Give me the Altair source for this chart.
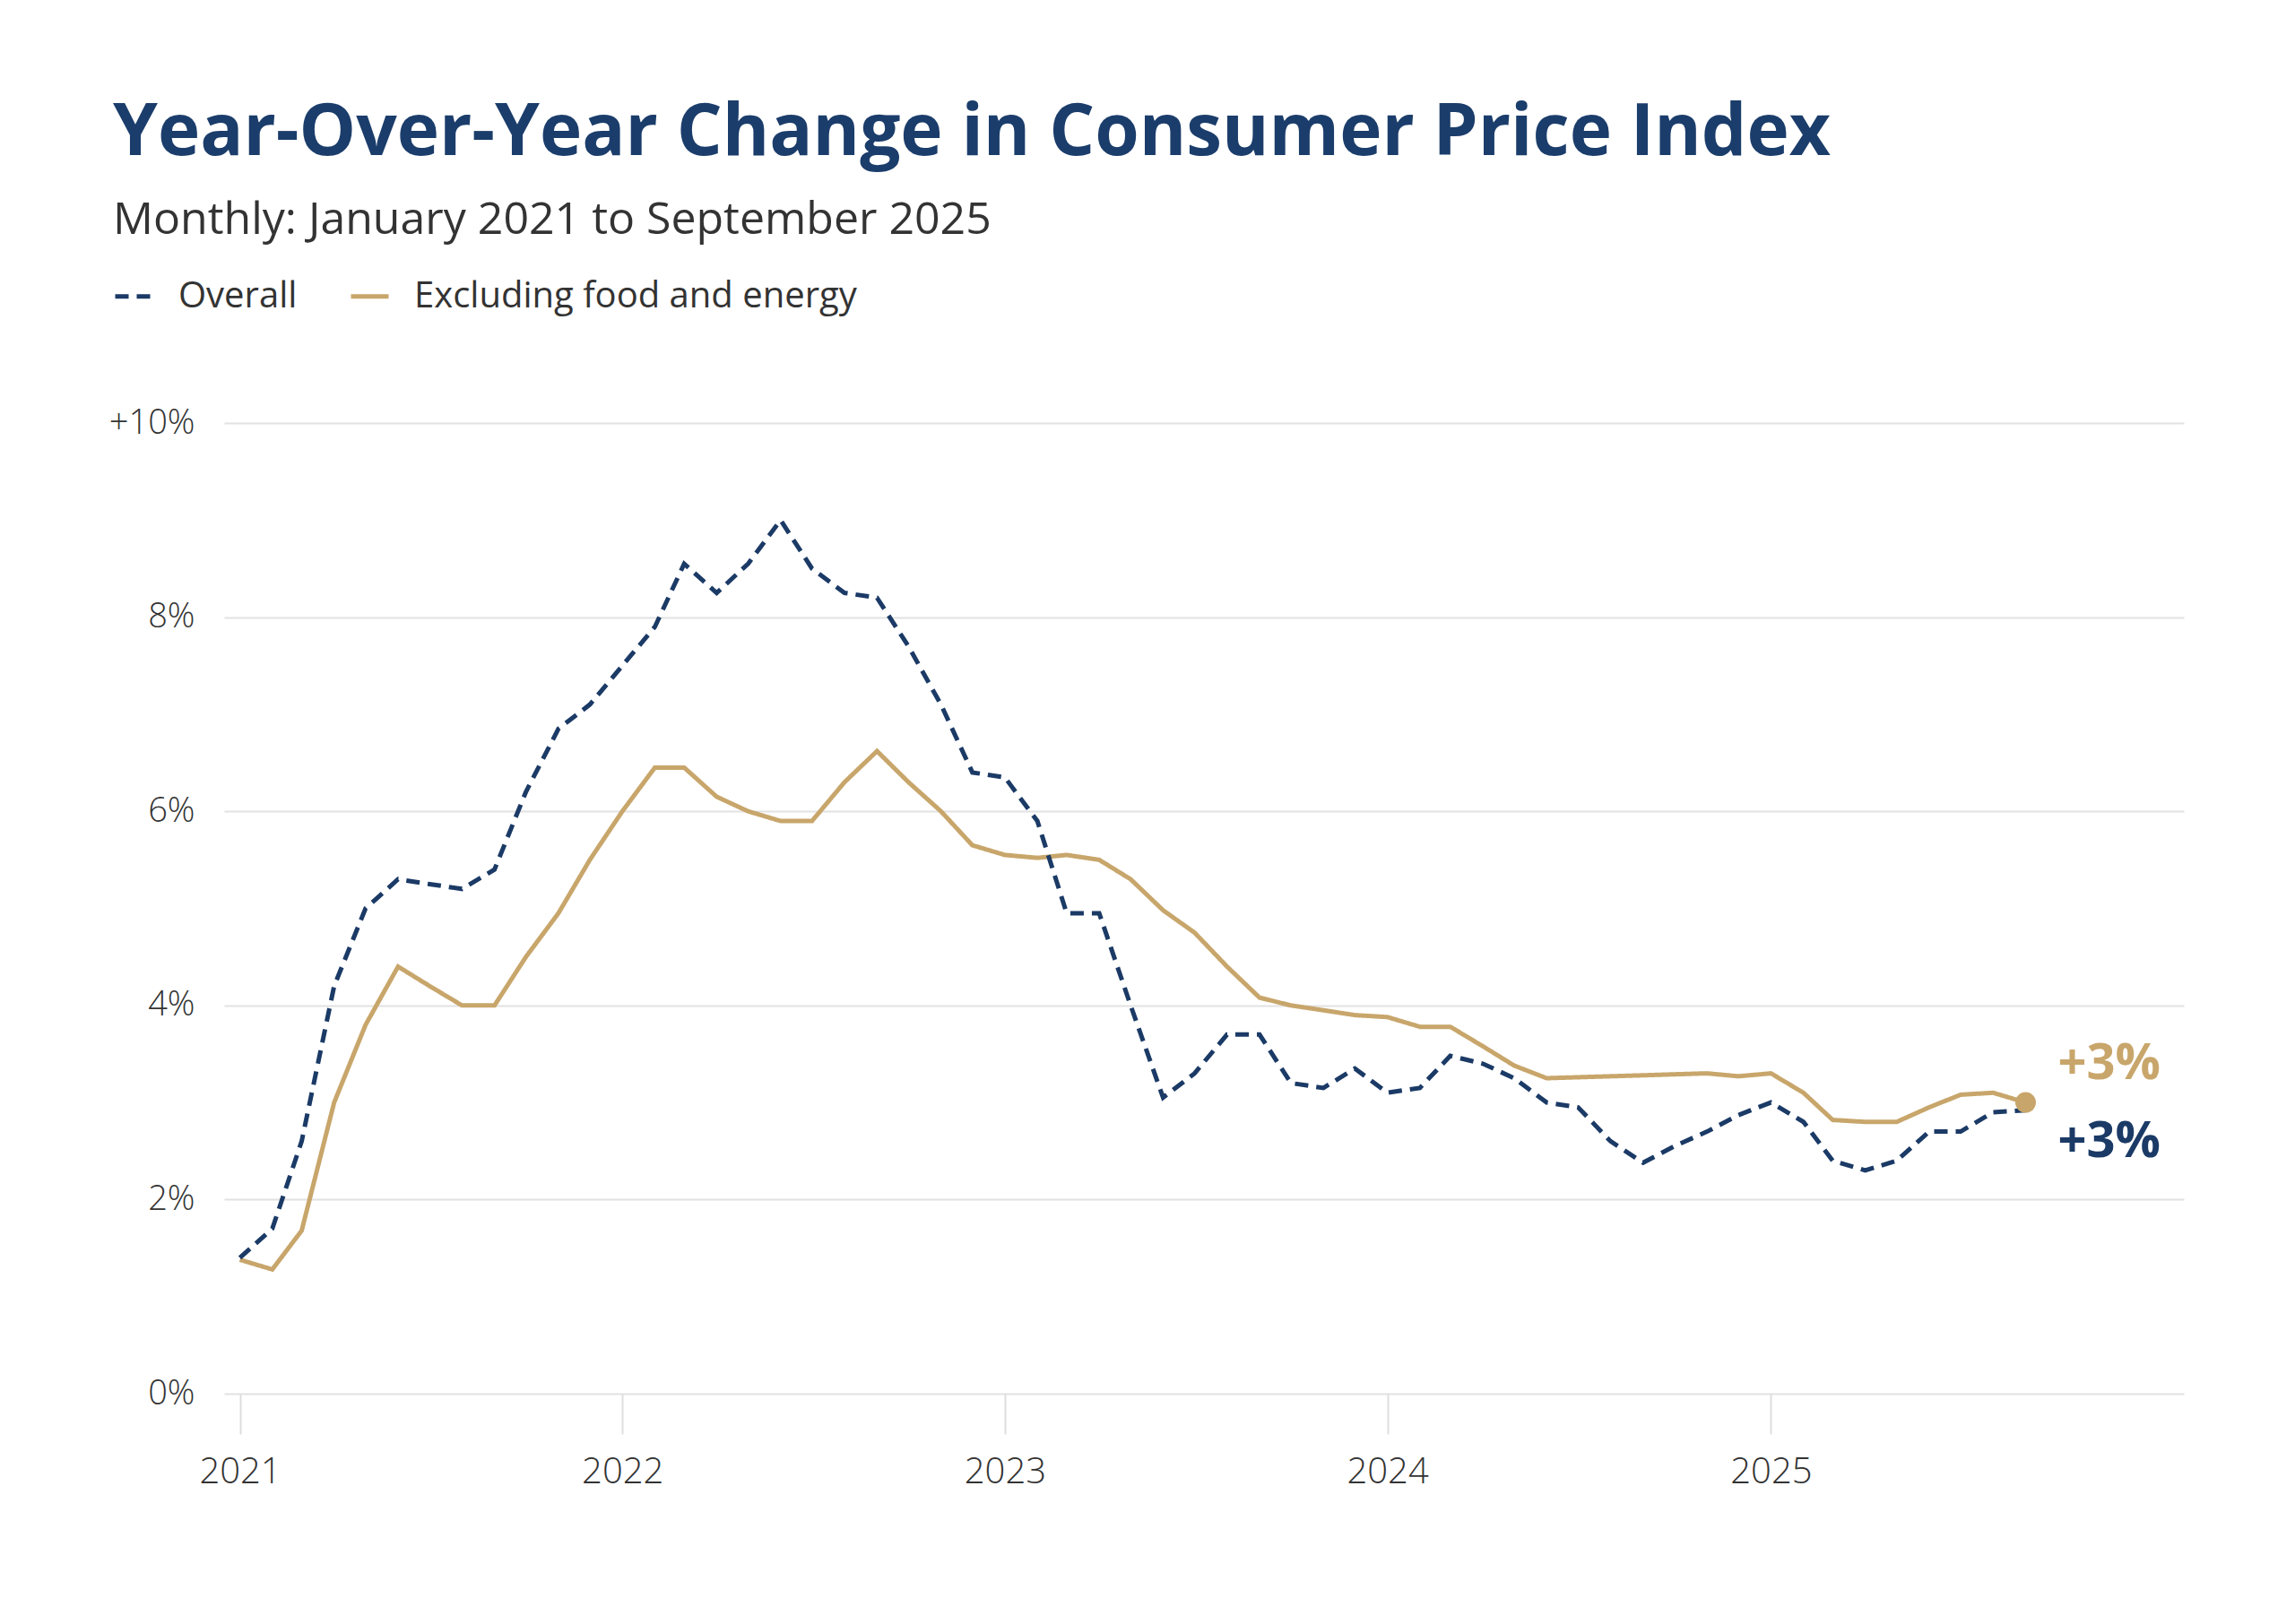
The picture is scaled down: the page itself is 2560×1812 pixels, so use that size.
import altair as alt
import pandas as pd

# ---- data ----
months = pd.date_range("2021-01-01", "2025-09-01", freq="MS").strftime("%Y-%m-%d").tolist()

overall = [
    1.4, 1.7, 2.6, 4.2, 5.0, 5.3, 5.25, 5.2, 5.4, 6.2, 6.85, 7.1,
    7.5, 7.9, 8.55, 8.25, 8.55, 9.0, 8.5, 8.25, 8.2, 7.7, 7.1, 6.4,
    6.35, 5.9, 4.95, 4.95, 4.0, 3.05, 3.3, 3.7, 3.7, 3.2, 3.15, 3.35,
    3.1, 3.15, 3.48, 3.4, 3.25, 3.0, 2.95, 2.6, 2.38, 2.55, 2.7, 2.87,
    3.0, 2.8, 2.4, 2.3, 2.4, 2.7, 2.7, 2.9, 2.92,
]
core = [
    1.38, 1.28, 1.68, 3.0, 3.8, 4.4, 4.2, 4.0, 4.0, 4.5, 4.95, 5.5,
    6.0, 6.45, 6.45, 6.15, 6.0, 5.9, 5.9, 6.3, 6.62, 6.3, 6.0, 5.65,
    5.55, 5.52, 5.55, 5.5, 5.3, 4.98, 4.75, 4.4, 4.08, 4.0, 3.95, 3.9,
    3.88, 3.78, 3.78, 3.58, 3.38, 3.25, 3.26, 3.27, 3.28, 3.29, 3.3, 3.27,
    3.3, 3.1, 2.82, 2.8, 2.8, 2.95, 3.08, 3.1, 3.0,
]
series_names = ["Overall", "Excluding food and energy"]
series_colors = ["#1b3a66", "#c8a66b"]
series_dashes = [[15, 9], [1, 0]]
end_labels = ["+3%", "+3%"]
y_ticks = [0, 2, 4, 6, 8, 10]
x_years = [2021, 2022, 2023, 2024, 2025]

title_text = "Year-Over-Year Change in Consumer Price Index"
subtitle_text = "Monthly: January 2021 to September 2025"

n = len(months)
df = pd.DataFrame({
    "date": months + months,
    "value": core + overall,
    "series": [series_names[1]] * n + [series_names[0]] * n,
})
ends = pd.DataFrame({
    "date": [months[-1], months[-1]],
    "value": [overall[-1], core[-1]],
    "series": series_names,
    "label": end_labels,
})

FONT = "Open Sans"
TEXT = "#333333"

x_enc = alt.X(
    "date:T",
    title=None,
    scale=alt.Scale(
        type="utc",
        domain=[alt.DateTime(year=2020, month=12, date=17, utc=True),
                alt.DateTime(year=2026, month=1, date=30, utc=True)],
    ),
    axis=alt.Axis(
        values=[alt.DateTime(year=y, month=1, date=1, utc=True) for y in x_years],
        format="%Y",
        grid=False, domain=False, ticks=True,
        tickSize=45, tickColor="#dedede", tickWidth=2,
        labelFontSize=40, labelColor=TEXT, labelFont=FONT, labelFontWeight=300,
        labelPadding=22,
    ),
)
y_enc = alt.Y(
    "value:Q",
    title=None,
    scale=alt.Scale(domain=[0, 10], nice=False),
    axis=alt.Axis(
        values=y_ticks,
        labelExpr="datum.value == 10 ? '+10%' : datum.value + '%'",
        domain=False, ticks=False,
        grid=True, gridColor="#e2e2e2", gridWidth=2,
        labelFontSize=38, labelColor=TEXT, labelFont=FONT, labelFontWeight=300,
        labelPadding=33,
    ),
)

legend = alt.Legend(
    title=None, orient="none", legendX=-124, legendY=-165,
    direction="horizontal",
)

lines = alt.Chart(df).mark_line(strokeWidth=5).encode(
    x=x_enc,
    y=y_enc,
    color=alt.Color("series:N", scale=alt.Scale(domain=series_names, range=series_colors), legend=legend),
    strokeDash=alt.StrokeDash("series:N", scale=alt.Scale(domain=series_names, range=series_dashes), legend=legend),
)

dot = alt.Chart(ends).transform_filter(
    alt.datum.series == series_names[1]
).mark_circle(size=530, opacity=1, color=series_colors[1]).encode(x="date:T", y="value:Q")

label_core = alt.Chart(ends).transform_filter(
    alt.datum.series == series_names[1]
).mark_text(
    align="left", baseline="middle", dx=36, dy=-43,
    font=FONT, fontSize=56, fontWeight="bold", color=series_colors[1],
).encode(x="date:T", y="value:Q", text="label:N")

label_all = alt.Chart(ends).transform_filter(
    alt.datum.series == series_names[0]
).mark_text(
    align="left", baseline="middle", dx=36, dy=35,
    font=FONT, fontSize=56, fontWeight="bold", color=series_colors[0],
).encode(x="date:T", y="value:Q", text="label:N")

chart = alt.layer(lines, dot, label_core, label_all).properties(
    width=2186,
    height=1083,
    autosize="none",
    background="white",
    padding={"left": 242, "top": 464, "right": 116, "bottom": 200},
    title=alt.TitleParams(
        text=title_text,
        subtitle=subtitle_text,
        anchor="start",
        frame="group",
        dx=-124,
        font=FONT, fontSize=80, fontWeight="bold", color="#1b3d6b",
        subtitleFont=FONT, subtitleFontSize=50, subtitleColor=TEXT,
        subtitlePadding=31,
        offset=35,
    ),
).configure_view(
    stroke=None
).configure_legend(
    symbolType="stroke", symbolSize=1764, symbolStrokeWidth=5,
    labelFont=FONT, labelFontSize=40, labelColor=TEXT, labelLimit=0,
    labelOffset=26, columnPadding=49, padding=0,
)

chart.save("out.html", embed_options={"renderer": "svg", "actions": False})
